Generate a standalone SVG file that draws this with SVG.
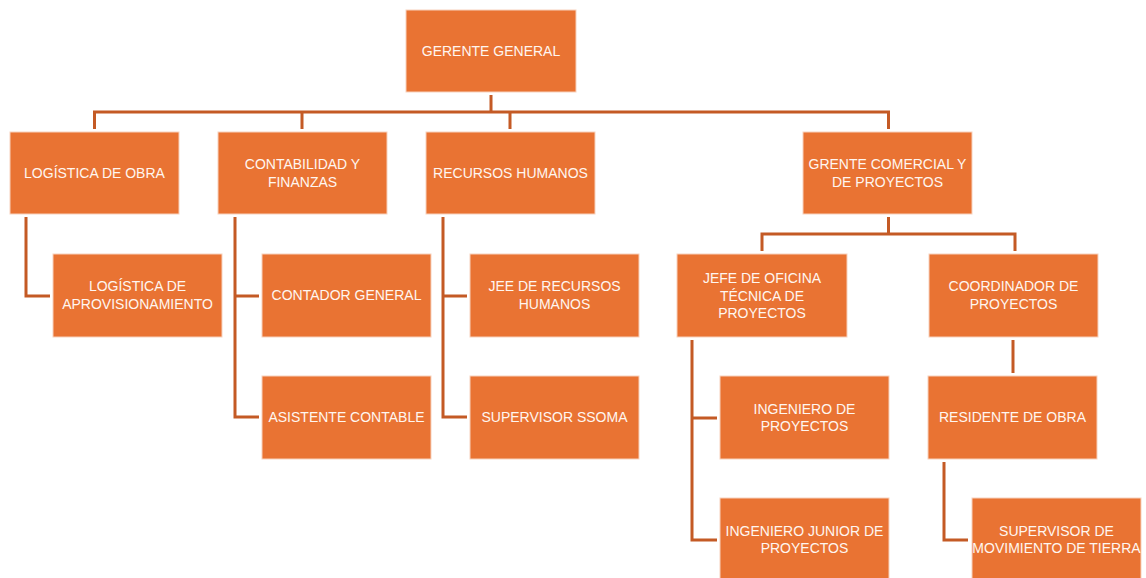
<svg xmlns="http://www.w3.org/2000/svg" width="1146" height="578" viewBox="0 0 1146 578">
<style>
.box{fill:#e97333;stroke:#f7d2bd;stroke-width:1}
.t{font-family:"Liberation Sans",Arial,sans-serif;font-size:14px;fill:#fff6f0;text-anchor:middle}
.c{fill:none;stroke:#c45a25;stroke-width:3}
</style>
<rect width="1146" height="578" fill="#ffffff"/>
<g id="connectors">
<path class="c" d="M491 95V112M94.5 129V112H888.5V129M302 112V129M510 112V129"/>
<path class="c" d="M888.5 217V234M762 251V234H1015V251"/>
<path class="c" d="M26 217V296H50"/>
<path class="c" d="M235 217V417H259M235 296H259"/>
<path class="c" d="M443 217V417H467M443 296H467"/>
<path class="c" d="M692 340V540H717M692 418H717"/>
<path class="c" d="M1013 340V373"/>
<path class="c" d="M944 462V540H968"/>
</g>
<g id="gerente-general"><rect class="box" x="406" y="10" width="170" height="82"/><text class="t" x="491" y="56">GERENTE GENERAL</text></g>
<g id="logistica-obra"><rect class="box" x="10" y="132" width="169" height="82"/><text class="t" x="94.5" y="178">LOGÍSTICA DE OBRA</text></g>
<g id="contabilidad"><rect class="box" x="218" y="132" width="169" height="82"/><text class="t" x="302.5" y="169">CONTABILIDAD Y</text><text class="t" x="302.5" y="187">FINANZAS</text></g>
<g id="rrhh"><rect class="box" x="426" y="132" width="169" height="82"/><text class="t" x="510.5" y="178">RECURSOS HUMANOS</text></g>
<g id="gerente-comercial"><rect class="box" x="803" y="132" width="169" height="82"/><text class="t" x="887.5" y="169">GRENTE COMERCIAL Y</text><text class="t" x="887.5" y="187">DE PROYECTOS</text></g>
<g id="logistica-aprov"><rect class="box" x="53" y="254" width="169" height="83"/><text class="t" x="137.5" y="291">LOGÍSTICA DE</text><text class="t" x="137.5" y="309">APROVISIONAMIENTO</text></g>
<g id="contador"><rect class="box" x="262" y="254" width="169" height="83"/><text class="t" x="346.5" y="300">CONTADOR GENERAL</text></g>
<g id="asistente"><rect class="box" x="262" y="376" width="169" height="83"/><text class="t" x="346.5" y="422">ASISTENTE CONTABLE</text></g>
<g id="jefe-rrhh"><rect class="box" x="470" y="254" width="169" height="83"/><text class="t" x="554.5" y="291">JEE DE RECURSOS</text><text class="t" x="554.5" y="309">HUMANOS</text></g>
<g id="ssoma"><rect class="box" x="470" y="376" width="169" height="83"/><text class="t" x="554.5" y="422">SUPERVISOR SSOMA</text></g>
<g id="jefe-oficina"><rect class="box" x="677" y="254" width="170" height="83"/><text class="t" x="762" y="283">JEFE DE OFICINA</text><text class="t" x="762" y="300.5">TÉCNICA DE</text><text class="t" x="762" y="318">PROYECTOS</text></g>
<g id="coordinador"><rect class="box" x="929" y="254" width="169" height="83"/><text class="t" x="1013.5" y="291">COORDINADOR DE</text><text class="t" x="1013.5" y="309">PROYECTOS</text></g>
<g id="ingeniero"><rect class="box" x="720" y="376" width="169" height="83"/><text class="t" x="804.5" y="413.5">INGENIERO DE</text><text class="t" x="804.5" y="431">PROYECTOS</text></g>
<g id="ingeniero-junior"><rect class="box" x="720" y="498" width="169" height="83"/><text class="t" x="804.5" y="535.5">INGENIERO JUNIOR DE</text><text class="t" x="804.5" y="553">PROYECTOS</text></g>
<g id="residente"><rect class="box" x="928" y="376" width="169" height="83"/><text class="t" x="1012.5" y="422">RESIDENTE DE OBRA</text></g>
<g id="supervisor-tierra"><rect class="box" x="972" y="498" width="169" height="83"/><text class="t" x="1056.5" y="535.5">SUPERVISOR DE</text><text class="t" x="1056.5" y="553">MOVIMIENTO DE TIERRA</text></g>
</svg>
